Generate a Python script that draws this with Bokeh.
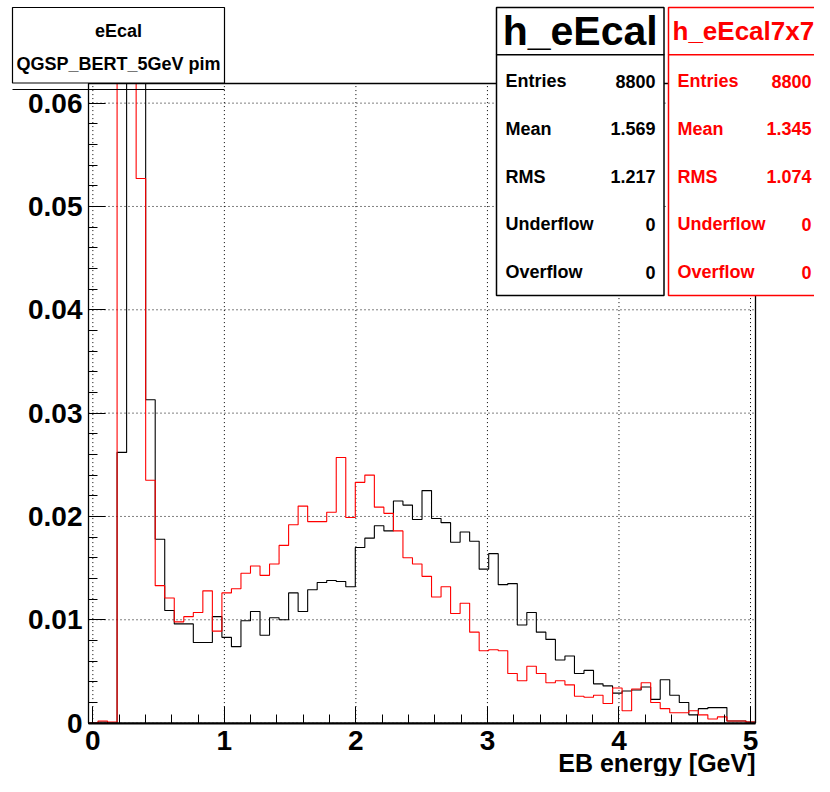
import numpy as np
from bokeh.plotting import figure
from bokeh.models import Range1d, FixedTicker, BoxAnnotation, Label
from bokeh.embed import file_html
from bokeh.resources import INLINE

# ---------------- data ----------------
HIST_XMIN, HIST_XMAX, N_BINS = -0.033, 5.038, 70

# h_eEcal (black), normalised bin contents
h_eEcal = [
    0.0000, 0.0001, 0.0000, 0.0262, 0.1650, 0.1430, 0.0313, 0.0178, 0.0109, 0.0096,
    0.0096, 0.0078, 0.0078, 0.0103, 0.0083, 0.0074, 0.0099, 0.0108, 0.0085, 0.0102,
    0.0100, 0.0126, 0.0108, 0.0129, 0.0136, 0.0138, 0.0137, 0.0132, 0.0170, 0.0179,
    0.0191, 0.0186, 0.0215, 0.0211, 0.0197, 0.0225, 0.0198, 0.0194, 0.0175, 0.0185,
    0.0176, 0.0149, 0.0164, 0.0134, 0.0135, 0.0095, 0.0107, 0.0088, 0.0081, 0.0061,
    0.0065, 0.0048, 0.0051, 0.0038, 0.0036, 0.0029, 0.0031, 0.0032, 0.0035, 0.0023,
    0.0042, 0.0027, 0.0020, 0.0008, 0.0014, 0.0015, 0.0015, 0.0002, 0.0002, 0.0001,
]

# h_eEcal7x7 (red)
h_eEcal7x7 = [
    0.0000, 0.0002, 0.0001, 0.1700, 0.1350, 0.0527, 0.0235, 0.0133, 0.0121, 0.0098,
    0.0103, 0.0107, 0.0128, 0.0089, 0.0126, 0.0130, 0.0145, 0.0152, 0.0143, 0.0154,
    0.0172, 0.0192, 0.0210, 0.0195, 0.0195, 0.0204, 0.0257, 0.0199, 0.0233, 0.0240,
    0.0209, 0.0203, 0.0186, 0.0160, 0.0154, 0.0142, 0.0122, 0.0132, 0.0106, 0.0116,
    0.0088, 0.0070, 0.0071, 0.0070, 0.0048, 0.0041, 0.0055, 0.0048, 0.0039, 0.0041,
    0.0037, 0.0026, 0.0025, 0.0027, 0.0019, 0.0034, 0.0012, 0.0033, 0.0039, 0.0020,
    0.0014, 0.0010, 0.0010, 0.0012, 0.0008, 0.0004, 0.0006, 0.0002, 0.0002, 0.0001,
]

X_TICKS = [0, 1, 2, 3, 4, 5]
X_MINOR_STEP = 0.2
Y_TICKS = [0, 0.01, 0.02, 0.03, 0.04, 0.05, 0.06]
Y_TICK_LABELS = ["0", "0.01", "0.02", "0.03", "0.04", "0.05", "0.06"]
Y_MINOR_STEP = 0.002
Y_MAX = 0.0619

TITLE_LINES = ["eEcal", "QGSP_BERT_5GeV pim"]
X_TITLE = "EB energy [GeV]"

STAT_NAMES = ["Entries", "Mean", "RMS", "Underflow", "Overflow"]
STATS_BLACK = ["8800", "1.569", "1.217", "0", "0"]
STATS_RED = ["8800", "1.345", "1.074", "0", "0"]
NAME_BLACK = "h_eEcal"
NAME_RED = "h_eEcal7x7"

# ---------------- layout (canvas pixels) ----------------
W, H = 814, 776
FL, FR, FT, FB = 88, 755, 83, 722.6      # ROOT frame inside the canvas
FONT = "Liberation Sans"
RED = "#ff0000"


def dx(px):
    return HIST_XMIN + (px - FL) * (HIST_XMAX - HIST_XMIN) / (FR - FL)


def dy(py):
    return Y_MAX * (FB - py) / (FB - FT)


# the Bokeh frame covers the whole canvas; axes are pinned at the ROOT frame
p = figure(width=W, height=H, output_backend="svg", toolbar_location=None,
           x_range=Range1d(dx(0), dx(W)), y_range=Range1d(dy(H), dy(0)),
           min_border_left=0, min_border_right=0,
           min_border_top=0, min_border_bottom=0)
p.title.visible = False
p.background_fill_color = "white"
p.border_fill_color = "white"
p.outline_line_color = None
p.xgrid.visible = False
p.ygrid.visible = False

# axes
x_minor = [round(i * X_MINOR_STEP, 4) for i in range(0, 26)]
y_minor = [round(i * Y_MINOR_STEP, 4) for i in range(0, 31)]
p.xaxis.ticker = FixedTicker(ticks=X_TICKS, minor_ticks=x_minor)
p.yaxis.ticker = FixedTicker(ticks=Y_TICKS, minor_ticks=y_minor)
p.yaxis.major_label_overrides = {t: lab for t, lab in zip(Y_TICKS, Y_TICK_LABELS)}
p.xaxis.fixed_location = 0
p.yaxis.fixed_location = HIST_XMIN
p.xaxis.bounds = (HIST_XMIN, HIST_XMAX)
p.yaxis.bounds = (0, Y_MAX)
for ax in (p.xaxis, p.yaxis):
    ax.major_tick_in = 17
    ax.major_tick_out = 0
    ax.minor_tick_in = 9
    ax.minor_tick_out = 0
    ax.major_tick_line_color = "black"
    ax.minor_tick_line_color = "black"
    ax.axis_line_color = "black"
    ax.major_label_text_font = FONT
    ax.major_label_text_font_style = "bold"
    ax.major_label_text_font_size = "28px"
    ax.major_label_text_color = "black"
p.xaxis.axis_line_width = 2
p.yaxis.axis_line_width = 1
p.xaxis.major_label_standoff = 8
p.yaxis.major_label_standoff = 6

# dotted grid at the major ticks, confined to the ROOT frame
p.segment(x0=X_TICKS, x1=X_TICKS, y0=[0] * len(X_TICKS), y1=[Y_MAX] * len(X_TICKS),
          line_color="black", line_dash="1 3", line_width=1)
p.segment(x0=[HIST_XMIN] * len(Y_TICKS), x1=[HIST_XMAX] * len(Y_TICKS), y0=Y_TICKS, y1=Y_TICKS,
          line_color="black", line_dash="1 3", line_width=1)

# histograms (drawn clipped at the top of the ROOT frame)
edges = np.linspace(HIST_XMIN, HIST_XMAX, N_BINS + 1)
yb = np.minimum(np.array(h_eEcal + [h_eEcal[-1]]), Y_MAX)
yr = np.minimum(np.array(h_eEcal7x7 + [h_eEcal7x7[-1]]), Y_MAX)
p.step(x=edges, y=yb, mode="after", line_color="black", line_width=1.1)
p.step(x=edges, y=yr, mode="after", line_color=RED, line_width=1.1)

# ROOT frame
p.quad(left=[HIST_XMIN], right=[HIST_XMAX], bottom=[0], top=[Y_MAX],
       fill_color=None, line_color="black", line_width=1.3)


def box(x0, x1, y0, y1, color, width=1.5):
    b = BoxAnnotation(left=dx(x0), right=dx(x1), top=dy(y0), bottom=dy(y1),
                      fill_color="white", fill_alpha=1.0, line_color=color,
                      line_width=width, line_alpha=1.0, level="annotation")
    p.add_layout(b)


def text(x, y, s, size, color="black", align="left"):
    # y is the vertical centre of the capital letters
    lab = Label(x=dx(x), y=dy(y), text=s, text_font=FONT, text_font_style="bold",
                text_font_size=size, text_color=color, text_align=align,
                text_baseline="middle", level="overlay")
    p.add_layout(lab)


# title pave
box(12, 224, 7, 82.5, "black", 1.2)
text(118, 30, TITLE_LINES[0], "18px", align="center")
text(118, 63.6, TITLE_LINES[1], "18px", align="center")
# thin rule under the title pave
p.segment(x0=[dx(12)], x1=[dx(224)], y0=[dy(89)], y1=[dy(89)], line_color="black", line_width=1.2)

# stats box black
box(496, 663.5, 7, 54.3, "black", 1.5)
box(496, 663.5, 54.3, 295, "black", 1.5)
text(579.7, 30, NAME_BLACK, "41px", align="center")
row_y = [80.5, 128.25, 176, 223.75, 271.5]
for yy, nm, v in zip(row_y, STAT_NAMES, STATS_BLACK):
    text(505, yy, nm, "18px")
    text(655, yy, v, "18px", align="right")

# stats box red
box(668, 840, 7, 54.3, RED, 1.5)
box(668, 840, 54.3, 295, RED, 1.5)
text(672, 30.7, NAME_RED, "26px", color=RED)
for yy, nm, v in zip(row_y, STAT_NAMES, STATS_RED):
    text(677, yy, nm, "18px", color=RED)
    text(811, yy, v, "18px", color=RED, align="right")

# x-axis title (ROOT style, right aligned under the axis end)
text(FR, 762.5, X_TITLE, "25px", align="right")

open("out.html", "w").write(file_html(p, INLINE))
